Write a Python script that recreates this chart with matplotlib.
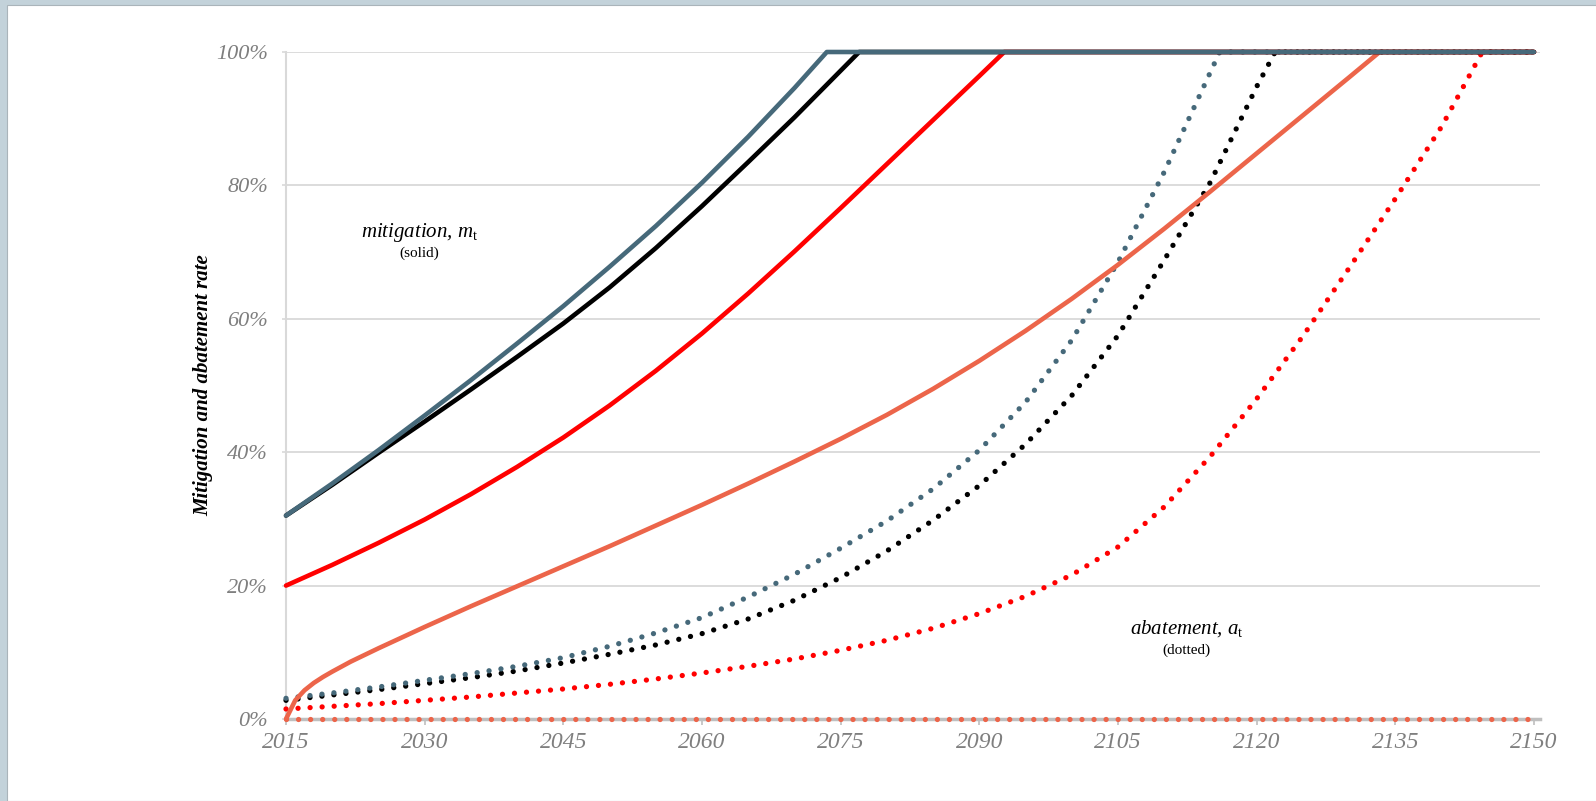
import matplotlib.pyplot as plt
from matplotlib.patches import Rectangle
from matplotlib.ticker import PercentFormatter

plt.rcParams['font.family'] = 'Liberation Serif'
plt.rcParams['mathtext.fontset'] = 'custom'
plt.rcParams['mathtext.it'] = 'Liberation Serif:italic'
plt.rcParams['mathtext.rm'] = 'Liberation Serif'

# mitigation rate m_t (solid lines), in %
slate_m_years = [2015, 2020, 2025, 2030, 2035, 2040, 2045, 2050, 2055, 2060, 2065, 2070, 2073.5, 2150]
slate_m = [30.5, 35.3, 40.3, 45.5, 50.8, 56.3, 61.9, 67.8, 73.9, 80.4, 87.3, 94.6, 100, 100]

black_m_years = [2015, 2020, 2025, 2030, 2035, 2040, 2045, 2050, 2055, 2060, 2065, 2070, 2075, 2077, 2150]
black_m = [30.5, 35.1, 39.9, 44.6, 49.4, 54.3, 59.3, 64.7, 70.6, 76.9, 83.5, 90.2, 97.2, 100, 100]

red_m_years = [2015, 2020, 2025, 2030, 2035, 2040, 2045, 2050, 2055, 2060, 2065, 2070, 2075, 2080, 2085,
               2090, 2092.7, 2150]
red_m = [20.0, 23.1, 26.4, 29.9, 33.7, 37.8, 42.2, 47.0, 52.2, 57.8, 63.8, 70.1, 76.6, 83.2, 89.8,
         96.4, 100, 100]

coral_m_years = [2015, 2016, 2017, 2018, 2019, 2020, 2022, 2025, 2030, 2035, 2040, 2045, 2050, 2055, 2060, 2065,
                 2070, 2075, 2080, 2085, 2090, 2095, 2100, 2105, 2110, 2115, 2120, 2125, 2130, 2133.3, 2150]
coral_m = [0.0, 2.8, 4.3, 5.4, 6.3, 7.1, 8.6, 10.6, 13.8, 16.9, 19.9, 22.9, 25.9, 29.0, 32.1, 35.3,
           38.6, 42.0, 45.6, 49.5, 53.7, 58.2, 63.0, 68.1, 73.5, 79.1, 84.8, 90.5, 96.2, 100, 100]

# abatement rate a_t (dotted lines), in %
slate_a_years = [2015, 2020, 2025, 2030, 2035, 2040, 2045, 2050, 2055, 2060, 2065, 2070, 2075, 2080,
                 2085, 2090, 2095, 2100, 2105, 2110, 2115, 2116, 2150]
slate_a = [3.1, 3.9, 4.8, 5.8, 6.8, 7.9, 9.2, 10.9, 12.9, 15.2, 18.3, 21.7, 25.6, 29.7,
           34.5, 40.3, 47.5, 56.8, 68.5, 82.0, 97.0, 100, 100]

black_a_years = [2015, 2020, 2025, 2030, 2035, 2040, 2045, 2050, 2055, 2060, 2065, 2070, 2075, 2080,
                 2085, 2090, 2095, 2100, 2105, 2110, 2115, 2120, 2122, 2150]
black_a = [2.8, 3.6, 4.4, 5.3, 6.2, 7.2, 8.4, 9.7, 11.1, 12.8, 15.0, 17.8, 21.2, 25.2,
           29.8, 35.0, 41.2, 48.5, 57.5, 68.8, 80.5, 94.8, 100, 100]

red_a_years = [2015, 2020, 2025, 2030, 2035, 2040, 2045, 2050, 2055, 2060, 2065, 2070, 2075, 2080, 2085,
               2090, 2095, 2100, 2105, 2110, 2115, 2120, 2125, 2130, 2135, 2140, 2144.4, 2150]
red_a = [1.5, 1.9, 2.3, 2.8, 3.3, 3.9, 4.5, 5.2, 6.0, 6.9, 7.9, 9.0, 10.3, 11.8, 13.6,
         15.8, 18.4, 21.6, 25.8, 31.8, 39.4, 48.0, 57.4, 67.6, 78.0, 88.8, 100, 100]

coral_a_years = [2015, 2150]
coral_a = [0.0, 0.0]

SLATE = '#46697a'
BLACK = '#000000'
RED = '#ff0000'
CORAL = '#ec654a'
DOT_LW = 3.8
DOT = (0, (0.01, 8.64 / DOT_LW))

fig = plt.figure(figsize=(15.96, 8.01), dpi=100, facecolor='#c3d2da')
fig.patches.append(Rectangle((7 / 1596, 0), 1, 1 - 5 / 801, transform=fig.transFigure,
                             facecolor='white', edgecolor='#aab4ba', lw=0.8, zorder=-10))
ax = fig.add_axes([286 / 1596, 1 - 719 / 801, (1540 - 286) / 1596, (719 - 52) / 801])
ax.set_facecolor('none')

for yrs, vals, col in [(coral_a_years, coral_a, CORAL), (red_a_years, red_a, RED),
                       (black_a_years, black_a, BLACK), (slate_a_years, slate_a, SLATE)]:
    ax.plot(yrs, [v / 100 for v in vals], color=col, lw=DOT_LW, linestyle=DOT,
            dash_capstyle='round', clip_on=False, zorder=3)

for yrs, vals, col in [(coral_m_years, coral_m, CORAL), (red_m_years, red_m, RED),
                       (black_m_years, black_m, BLACK), (slate_m_years, slate_m, SLATE)]:
    ax.plot(yrs, [v / 100 for v in vals], color=col, lw=3.3, solid_capstyle='round',
            solid_joinstyle='round', clip_on=False, zorder=4)

ax.set_xlim(2015, 2150.65)
ax.set_ylim(0, 1)
ax.set_xticks(range(2015, 2151, 15))
ax.set_yticks([0, 0.2, 0.4, 0.6, 0.8, 1.0])
ax.yaxis.set_major_formatter(PercentFormatter(1, decimals=0))

ax.grid(axis='y', color='#d9d9d9', lw=1.3)
ax.set_axisbelow(True)
for s in ['top', 'right']:
    ax.spines[s].set_visible(False)
ax.spines['left'].set_color('#d9d9d9')
ax.spines['left'].set_linewidth(1.5)
ax.spines['bottom'].set_color('#bfbfbf')
ax.spines['bottom'].set_linewidth(2.5)

ax.tick_params(axis='x', length=4, width=1.2, color='#bfbfbf', labelsize=17,
               labelcolor='#7f7f7f', pad=5)
ax.tick_params(axis='y', length=3, width=1.2, color='#d9d9d9', labelsize=16,
               labelcolor='#7f7f7f', pad=10)
for lab in ax.get_xticklabels() + ax.get_yticklabels():
    lab.set_style('italic')

ax.set_ylabel('Mitigation and abatement rate', fontsize=15, fontweight='bold',
              style='italic', labelpad=2)

ax.text(2029.4, 0.73, r'mitigation, $m_{\mathrm{t}}$', style='italic', fontsize=15,
        ha='center', va='center')
ax.text(2029.4, 0.698, '(solid)', fontsize=11, ha='center', va='center')
ax.text(2112.4, 0.136, r'abatement, $a_{\mathrm{t}}$', style='italic', fontsize=15,
        ha='center', va='center')
ax.text(2112.4, 0.103, '(dotted)', fontsize=11, ha='center', va='center')

fig.savefig('out.png', dpi=100, facecolor=fig.get_facecolor())
